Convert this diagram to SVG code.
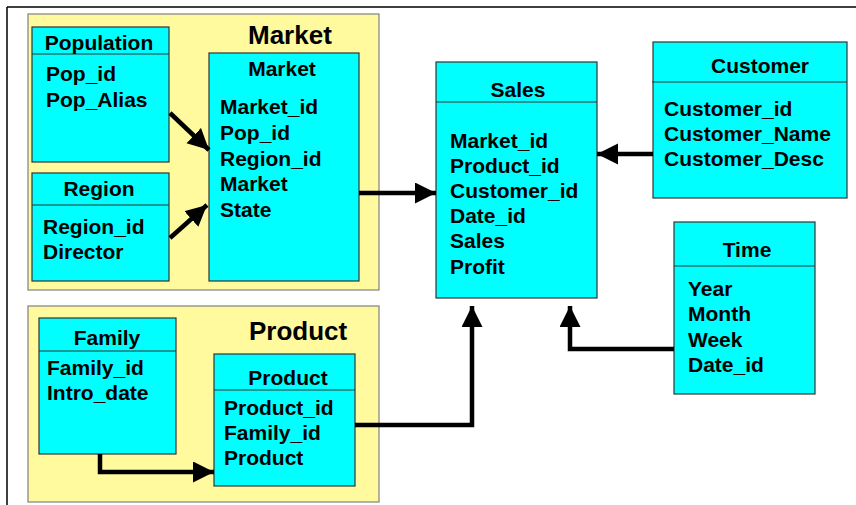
<svg xmlns="http://www.w3.org/2000/svg" width="856" height="505" viewBox="0 0 856 505">
<defs>
<style>
.grp{fill:#FFFA9E;stroke:#808080;stroke-width:1.2}
.box{fill:#00FFFF;stroke:#333;stroke-width:1.2}
.div{stroke:#333;stroke-width:1.2}
text{font-family:"Liberation Sans",Arial,sans-serif;font-weight:bold;fill:#000}
.t{font-size:21px;text-anchor:middle}
.f{font-size:21px}
.g{font-size:26px}
.c{fill:none;stroke:#000;stroke-width:4.5;marker-end:url(#ah)}
</style>
<marker id="ah" markerUnits="userSpaceOnUse" markerWidth="22" markerHeight="22" refX="21" refY="10.5" orient="auto">
<path d="M0,0 L21,10.5 L0,21 z" fill="#000"/>
</marker>
</defs>
<rect width="856" height="505" fill="#fff"/>
<path d="M7,7 H856 M7,7 V505" stroke="#000" stroke-width="1.5" fill="none"/>

<g id="market-group">
<rect class="grp" x="28" y="14" width="351" height="276"/>
<text class="g" x="248" y="44">Market</text>
</g>
<g id="product-group">
<rect class="grp" x="28" y="306" width="351" height="196"/>
<text class="g" x="249" y="340">Product</text>
</g>

<g id="population">
<rect class="box" x="32" y="27" width="137" height="135"/>
<line class="div" x1="32" y1="54" x2="169" y2="54"/>
<text class="t" x="99" y="50">Population</text>
<text class="f" x="46" y="81">Pop_id</text>
<text class="f" x="46" y="107">Pop_Alias</text>
</g>
<g id="region">
<rect class="box" x="32" y="173" width="137" height="108"/>
<line class="div" x1="32" y1="205" x2="169" y2="205"/>
<text class="t" x="99" y="196">Region</text>
<text class="f" x="43" y="234">Region_id</text>
<text class="f" x="43" y="259">Director</text>
</g>
<g id="market">
<rect class="box" x="209" y="53" width="150" height="228"/>
<text class="t" x="282" y="76">Market</text>
<text class="f" x="220" y="114">Market_id</text>
<text class="f" x="220" y="140">Pop_id</text>
<text class="f" x="220" y="166">Region_id</text>
<text class="f" x="220" y="191">Market</text>
<text class="f" x="220" y="217">State</text>
</g>
<g id="sales">
<rect class="box" x="436" y="62" width="161" height="236"/>
<line class="div" x1="436" y1="102" x2="597" y2="102"/>
<text class="t" x="518" y="97">Sales</text>
<text class="f" x="450" y="148">Market_id</text>
<text class="f" x="450" y="173">Product_id</text>
<text class="f" x="450" y="198">Customer_id</text>
<text class="f" x="450" y="223">Date_id</text>
<text class="f" x="450" y="248">Sales</text>
<text class="f" x="450" y="274">Profit</text>
</g>
<g id="customer">
<rect class="box" x="653" y="42" width="194" height="156"/>
<line class="div" x1="652" y1="82" x2="847" y2="82"/>
<text class="t" x="760" y="73">Customer</text>
<text class="f" x="664" y="116">Customer_id</text>
<text class="f" x="664" y="141">Customer_Name</text>
<text class="f" x="664" y="166">Customer_Desc</text>
</g>
<g id="time">
<rect class="box" x="674" y="222" width="141" height="172"/>
<line class="div" x1="674" y1="266" x2="815" y2="266"/>
<text class="t" x="747" y="257">Time</text>
<text class="f" x="688" y="296">Year</text>
<text class="f" x="688" y="321">Month</text>
<text class="f" x="688" y="347">Week</text>
<text class="f" x="688" y="372">Date_id</text>
</g>
<g id="family">
<rect class="box" x="39" y="318" width="137" height="136"/>
<line class="div" x1="39" y1="351" x2="176" y2="351"/>
<text class="t" x="107" y="345">Family</text>
<text class="f" x="47" y="375">Family_id</text>
<text class="f" x="47" y="400">Intro_date</text>
</g>
<g id="product">
<rect class="box" x="214" y="354" width="141" height="132"/>
<line class="div" x1="214" y1="390" x2="355" y2="390"/>
<text class="t" x="288" y="385">Product</text>
<text class="f" x="224" y="415">Product_id</text>
<text class="f" x="224" y="440">Family_id</text>
<text class="f" x="224" y="465">Product</text>
</g>

<g id="connectors">
<line class="c" x1="170" y1="113" x2="209" y2="150"/>
<line class="c" x1="170" y1="238" x2="207" y2="205"/>
<line class="c" x1="359" y1="193" x2="436" y2="193"/>
<line class="c" x1="653" y1="154" x2="597" y2="154"/>
<polyline class="c" points="355,425 472,425 472,306"/>
<polyline class="c" points="674,349 570,349 570,306"/>
<polyline class="c" points="100,454 100,472 214,472"/>
</g>
</svg>
